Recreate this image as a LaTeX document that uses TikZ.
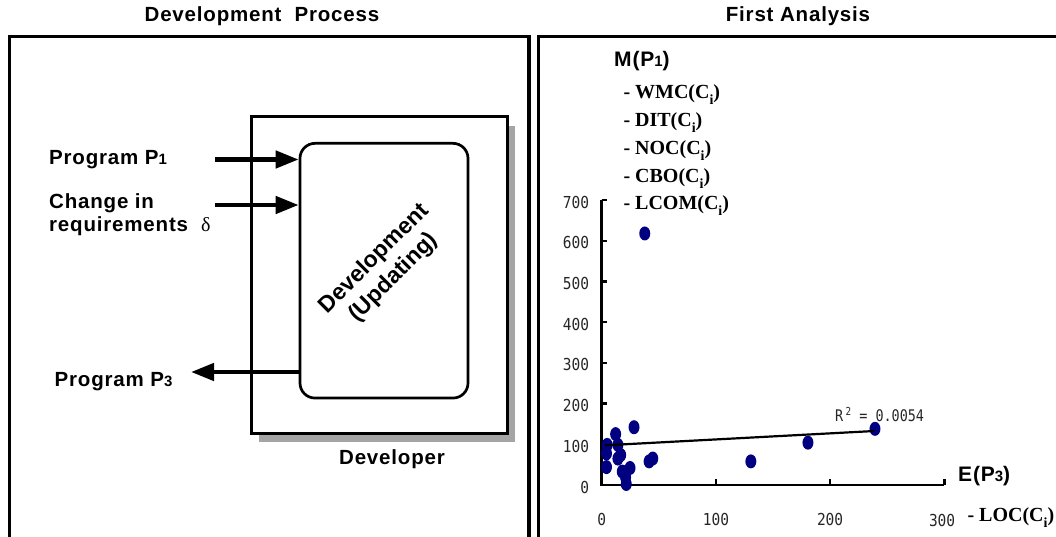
\documentclass[tikz,border=0pt]{standalone}
\usepackage{fontspec}
\usetikzlibrary{arrows.meta}
\newfontfamily\hv[LetterSpace=4]{Liberation Sans}
\newfontfamily\hvplain{Liberation Sans}
\newfontfamily\tmr{Liberation Serif}
\newfontfamily\mono{DejaVu Sans Mono}
\definecolor{dotblue}{RGB}{0,0,128}
\definecolor{shadowgray}{RGB}{165,165,165}
\newcommand{\labfont}{\hv\bfseries\fontsize{20.5}{23}\selectfont}
\newcommand{\titlefont}{\hv\bfseries\fontsize{20.5}{23}\selectfont}
\newcommand{\smalldigit}[1]{{\fontsize{15}{15}\selectfont #1}}
\newcommand{\metricline}[1]{- #1(C\raisebox{-6pt}{\fontsize{14}{14}\selectfont i})}
\begin{document}
\begin{tikzpicture}[x=1pt,y=-1pt,
  frame/.style={line width=3.5pt},
  lbl/.style={font=\labfont, inner sep=0pt},
  metric/.style={font=\tmr\bfseries\fontsize{20}{24}\selectfont, inner sep=0pt, anchor=base west},
  flow/.style={line width=4.5pt, -{Triangle[length=23pt,width=17pt]}},
  ticklab/.style={font=\mono\fontsize{16.5}{16}\selectfont, text=black!85, inner sep=0pt, xscale=0.88},
  axisline/.style={line width=2.5pt}]
\useasboundingbox (0,0) rectangle (1056,537);
\clip (0,0) rectangle (1056,537);

% panel frames (open at the bottom)
\draw[frame] (9.5,560) -- (9.5,36.5) -- (529,36.5) -- (529,560);
\draw[frame] (538.5,560) -- (538.5,36.5) -- (1070,36.5);

% titles
\node[font=\titlefont, anchor=base, inner sep=0pt] (ttl1) at (262,22) {Development\ \ Process};
\node[font=\titlefont, anchor=base, inner sep=0pt] (ttl2) at (798,22) {First\ Analysis};

% developer box with drop shadow
\fill[shadowgray] (258.8,125.7) rectangle (515.2,442.3);
\node[draw, line width=2.7pt, fill=white, minimum width=256.4pt, minimum height=316.6pt, inner sep=0pt] (devr) at (379.5,275) {};
\node[draw, line width=2.7pt, fill=white, rounded corners=15pt, minimum width=168pt, minimum height=254.7pt, inner sep=0pt] (dev) at (384,270.7) {};
\node[inner sep=0pt, font=\hvplain\bfseries\fontsize{23}{27}\selectfont, align=center, rotate=45] (devtxt) at (384,268.5) {Development\\(Updating)};
\node[lbl, anchor=base] (devlbl) at (392,464.5) {Developer};

% inputs and output
\node[lbl, anchor=base west] (p1) at (49,164.5) {Program P\smalldigit{1}};
\node[lbl, anchor=base west, align=left] (chg) at (49,209) {Change in};
\node[lbl, anchor=base west] (req) at (49,231.5) {requirements\ \ {\tmr\mdseries\fontsize{20}{20}\selectfont δ}};
\node[lbl, anchor=base west] (p3) at (54.5,386) {Program P\smalldigit{3}};

\coordinate (in1) at (215,159.5);
\coordinate (in2) at (215,205);
\coordinate (out3) at (191,372);
\draw[flow] (in1) -- (in1 -| dev.west);
\draw[flow] (in2) -- (in2 -| dev.west);
\draw[flow] (out3 -| dev.west) -- (out3);

% chart labels
\node[lbl, anchor=base west, font=\hv\bfseries\fontsize{21}{22}\selectfont] (mp1) at (614,67) {M(P\smalldigit{1})};
\node[metric] (wmc) at (623.3,98.3) {\metricline{WMC}};
\node[metric] (dit) at (623.3,126.4) {\metricline{DIT}};
\node[metric] (noc) at (623.3,154.3) {\metricline{NOC}};
\node[metric] (cbo) at (623.3,182.1) {\metricline{CBO}};
\node[metric] (lcom) at (623.3,210) {\metricline{LCOM}};
\node[lbl, anchor=base west, font=\hv\bfseries\fontsize{21}{22}\selectfont] (ep3) at (958,481) {E(P\smalldigit{3})};
\node[metric] (loc) at (967.3,521.7) {\metricline{LOC}};

% scatter plot in data coordinates
\begin{scope}[shift={(601.7,485)}, x=1.142pt, y=0.407pt]
  \draw[axisline] (0,700) -- (0,0) -- (300,0);
  \foreach \v in {100,200,...,700} \draw[axisline] (0,\v) -- ++(5pt,0);
  \foreach \v in {100,200,300} \draw[axisline] (\v,0) -- ++(0,6pt);
  \foreach \v in {0,100,...,700}
    \node[ticklab, anchor=east, xshift=-14pt, yshift=-2pt] (ylab\v) at (0,\v) {\v};
  \foreach \v in {0,100,200}
    \node[ticklab, yshift=-34.5pt] (xlab\v) at (\v,0) {\v};
  \node[ticklab, yshift=-35.5pt, xshift=-2.5pt] (xlab300) at (300,0) {300};
  \foreach \px/\py in {4.8/98.5,4.2/77.6,4.2/44,12.2/125,14.2/98.5,16.6/73.6,14.2/65,18/33,24.8/41.8,20.9/19,21.5/2.5,28.3/142,37.7/618,41.5/58,44.7/65,130.6/58,180.6/104,239.3/138}
    \fill[dotblue] (\px,\py) ellipse [x radius=5.5pt, y radius=7pt];
  \coordinate (r0) at (3,97.5);
  \coordinate (r1) at (239,132.7);
  \draw[line width=2.2pt] (r0) -- (r1);
  \node[font=\mono\fontsize{16}{16}\selectfont, text=black!85, inner sep=0pt, anchor=base west, xscale=0.84] (rsq) at (204.2,157) {R\hspace{3pt}\raisebox{6pt}{\fontsize{11}{11}\selectfont 2} = 0.0054};
\end{scope}
\end{tikzpicture}
\end{document}
